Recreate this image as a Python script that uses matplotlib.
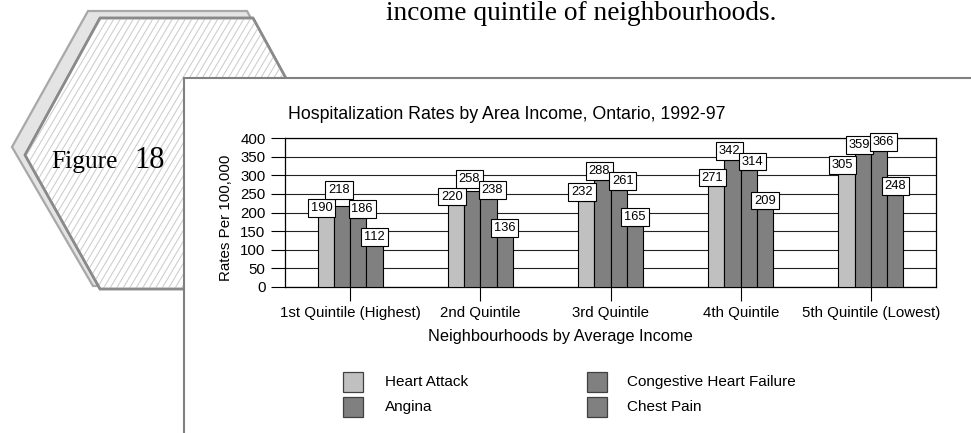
import matplotlib
matplotlib.use("Agg")
import matplotlib.pyplot as plt
from matplotlib.patches import Polygon, Rectangle
import numpy as np

# ---------------- data ----------------
categories = ["1st Quintile (Highest)", "2nd Quintile", "3rd Quintile",
              "4th Quintile", "5th Quintile (Lowest)"]
series_names = ["Heart Attack", "Angina", "Congestive Heart Failure", "Chest Pain"]
heart_attack = [190, 220, 232, 271, 305]
angina = [218, 258, 288, 342, 359]
chf = [186, 238, 261, 314, 366]
chest_pain = [112, 136, 165, 209, 248]
y_ticks = [0, 50, 100, 150, 200, 250, 300, 350, 400]
title = "Hospitalization Rates by Area Income, Ontario, 1992-97"
x_title = "Neighbourhoods by Average Income"
y_title = "Rates Per 100,000"
page_text = "income quintile of neighbourhoods."
fig_label = ("Figure", "18")

series_values = [heart_attack, angina, chf, chest_pain]
colors = ["#c0c0c0", "#808080", "#808080", "#808080"]

W, H = 971, 433
DPI = 100
fig = plt.figure(figsize=(W / DPI, H / DPI), dpi=DPI)
fig.patch.set_facecolor("white")

SANS = ["Liberation Sans", "DejaVu Sans"]
SERIF = ["Liberation Serif", "DejaVu Serif"]

# ---------------- page decoration (pixel coordinates) ----------------
deco = fig.add_axes([0, 0, 1, 1])
deco.set_xlim(0, W)
deco.set_ylim(H, 0)
deco.axis("off")

back_hex = [(88, 11), (247, 11), (322, 148), (247, 286), (93, 286), (12, 147)]
front_hex = [(100, 18), (253, 18), (328, 155), (253, 289), (100, 289), (25, 155)]
deco.add_patch(Polygon(back_hex, closed=True, facecolor="#e4e4e4",
                       edgecolor="#a8a8a8", lw=1.6, zorder=1))
deco.add_patch(Polygon(front_hex, closed=True, facecolor="white",
                       edgecolor="#8a8a8a", lw=1.8, zorder=2))
# diagonal hatching inside the front hexagon
clip = Polygon(front_hex, closed=True, transform=deco.transData)
for x0 in np.arange(-300, 400, 6.5):
    ln, = deco.plot([x0, x0 + 190], [300, -20], color="#cfcfcf", lw=0.8, zorder=3)
    ln.set_clip_path(clip)
deco.add_patch(Polygon(front_hex, closed=True, facecolor="none",
                       edgecolor="#8a8a8a", lw=1.8, zorder=4))

deco.text(51, 168, fig_label[0], family=SERIF, fontsize=18.3, color="black",
          ha="left", va="baseline", zorder=5)
deco.text(134, 168, fig_label[1], family=SERIF, fontsize=22, color="black",
          ha="left", va="baseline", zorder=5)

# white panel
deco.add_patch(Rectangle((183.5, 77.5), W, H, facecolor="white",
                         edgecolor="#808080", lw=1.5, zorder=6))

deco.text(386, 20, page_text, family=SERIF, fontsize=19.7, color="black",
          ha="left", va="baseline", zorder=7)

# ---------------- chart ----------------
ax_l, ax_r, ax_t, ax_b = 285, 936, 138, 287
ax = fig.add_axes([ax_l / W, 1 - ax_b / H, (ax_r - ax_l) / W, (ax_b - ax_t) / H])
ax.set_zorder(10)
ax.patch.set_alpha(0)

x = np.arange(len(categories))
bw = 0.125
n = len(series_values)
for i, vals in enumerate(series_values):
    ax.bar(x + (i - (n - 1) / 2) * bw, vals, width=bw, color=colors[i],
           edgecolor="black", lw=0.8, zorder=3)

ax.set_xlim(-0.5, len(categories) - 0.5)
ax.set_ylim(0, 400)
ax.set_yticks(y_ticks)
ax.set_yticklabels([str(v) for v in y_ticks], family=SANS, fontsize=10.8)
ax.set_xticks(x)
ax.set_xticklabels(categories, family=SANS, fontsize=10.8)
ax.tick_params(axis="y", direction="out", length=10, width=0.8, pad=4, color="black")
ax.tick_params(axis="x", direction="out", length=10, width=0.8, pad=4, color="black")
ax.grid(axis="y", color="#222222", lw=0.8, zorder=0)
ax.set_axisbelow(True)
for s in ax.spines.values():
    s.set_color("black")
    s.set_linewidth(0.9)

# data labels (Excel-like "outside end" labels, nudged to limit overlaps)
fig.canvas.draw()
to_px = ax.transData
box_h = 17.5
dx_px = [-4, -3, 4, 0]
lbl_fs = 9.3
for g in range(len(categories)):
    prev_top = None
    for i, vals in enumerate(series_values):
        xc = x[g] + (i - (n - 1) / 2) * bw
        v = vals[g]
        bar_top_px = to_px.transform((xc, v))[1]  # display coords (y up)
        dy = 2.5
        if i == 1 and prev_top is not None and bar_top_px < prev_top:
            dy += prev_top - bar_top_px
        ax.annotate(str(v), xy=(xc, v), xytext=(dx_px[i], dy),
                    textcoords="offset pixels", ha="center", va="bottom",
                    family=SANS, fontsize=lbl_fs, zorder=5 + i,
                    bbox=dict(boxstyle="square,pad=0.22", fc="white",
                              ec="black", lw=0.8),
                    annotation_clip=False)
        if i == 0:
            prev_top = bar_top_px + box_h

fig.text(507 / W, 1 - 115 / H, title, family=SANS, fontsize=12.8,
         ha="center", va="center", zorder=20)
fig.text(560 / W, 1 - 336 / H, x_title, family=SANS, fontsize=11.8,
         ha="center", va="center", zorder=20)
fig.text(226 / W, 1 - 218 / H, y_title, family=SANS, fontsize=10.9,
         rotation=90, ha="center", va="center", zorder=20)

# legend (two columns)
leg_pos = [(343, 372, 385), (343, 397, 385), (587, 372, 627), (587, 397, 627)]
for k, i in enumerate(range(len(series_names))):
    px, py, tx = leg_pos[k]
    deco.add_patch(Rectangle((px, py), 20, 20, facecolor=colors[i],
                             edgecolor="#404040", lw=0.9, zorder=8))
    deco.text(tx, py + 10, series_names[i], family=SANS, fontsize=11,
              ha="left", va="center", zorder=8)

fig.savefig("out.png", dpi=DPI)
